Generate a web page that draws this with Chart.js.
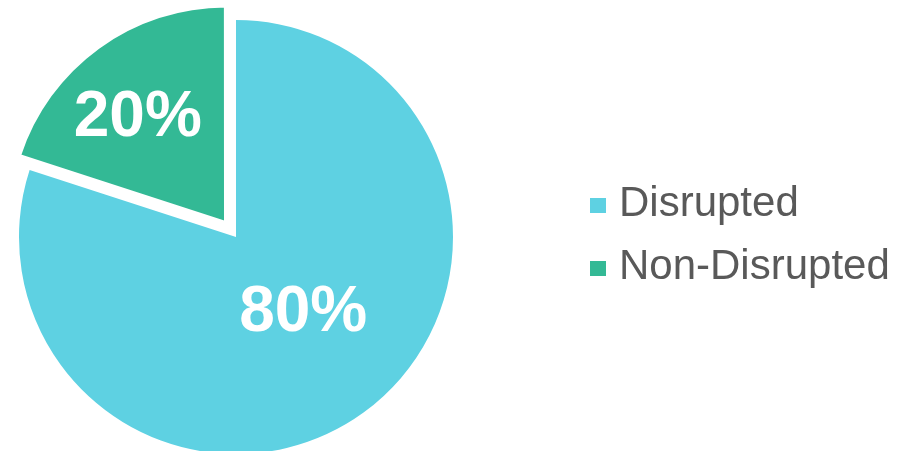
<!DOCTYPE html>
<html>
<head>
<meta charset="utf-8">
<script src="https://cdn.jsdelivr.net/npm/chart.js@4.4.1/dist/chart.umd.min.js"></script>
<style>
  body { margin: 0; background: #fff; }
  #wrap { position: relative; width: 905px; height: 451px; }
  #legend {
    position: absolute; left: 590px; top: 178px;
    font-family: "Liberation Sans", Arial, sans-serif; font-size: 42px; color: #595959;
  }
  .row { display: flex; align-items: center; height: 48px; line-height: 48px; margin-bottom: 15px; white-space: nowrap; }
  .box { width: 16px; height: 15px; margin-right: 13px; position: relative; top: 3px; }
</style>
</head>
<body>
<div id="wrap">
  <canvas id="pie"></canvas>
  <div id="legend"></div>
</div>
<script>
const categories = ['Disrupted', 'Non-Disrupted'];
const shares = [80, 20];
const colors = ['#5ED1E2', '#33B995'];

// label placement: fraction of radius + small angle nudge (degrees)
const labelRadius = [0.47, 0.71];
const labelNudge = [-5.2, -3.6];

const pieLabels = {
  id: 'pieLabels',
  afterDatasetsDraw(chart) {
    const ctx = chart.ctx;
    const meta = chart.getDatasetMeta(0);
    const total = shares.reduce((a, b) => a + b, 0);
    ctx.save();
    ctx.fillStyle = '#fff';
    ctx.font = 'bold 64px "Liberation Sans", Arial, sans-serif';
    ctx.textAlign = 'center';
    ctx.textBaseline = 'middle';
    meta.data.forEach((arc, i) => {
      const p = arc.getProps(['x', 'y', 'startAngle', 'endAngle', 'outerRadius']);
      const a = (p.startAngle + p.endAngle) / 2 + labelNudge[i] * Math.PI / 180;
      const r = p.outerRadius * labelRadius[i];
      const txt = Math.round(shares[i] / total * 100) + '%';
      ctx.fillText(txt, p.x + Math.cos(a) * r, p.y + Math.sin(a) * r);
    });
    ctx.restore();
  }
};

new Chart(document.getElementById('pie'), {
  type: 'pie',
  data: {
    labels: categories,
    datasets: [{
      data: shares,
      backgroundColor: colors,
      // thin white border trims the exploded slice a little, like the original
      borderColor: '#fff',
      borderWidth: [0, 4],
      borderAlign: 'center',
      offset: [0, 68],
      radius: 217
    }]
  },
  options: {
    responsive: true,
    maintainAspectRatio: false,
    animation: false,
    layout: { padding: { top: 23, right: 433, bottom: 0, left: 0 } },
    plugins: { legend: { display: false }, tooltip: { enabled: false } }
  },
  plugins: [pieLabels]
});

// legend
const legend = document.getElementById('legend');
categories.forEach((c, i) => {
  const row = document.createElement('div');
  row.className = 'row';
  const box = document.createElement('span');
  box.className = 'box';
  box.style.background = colors[i];
  const t = document.createElement('span');
  t.textContent = c;
  row.appendChild(box);
  row.appendChild(t);
  legend.appendChild(row);
});
</script>
</body>
</html>
